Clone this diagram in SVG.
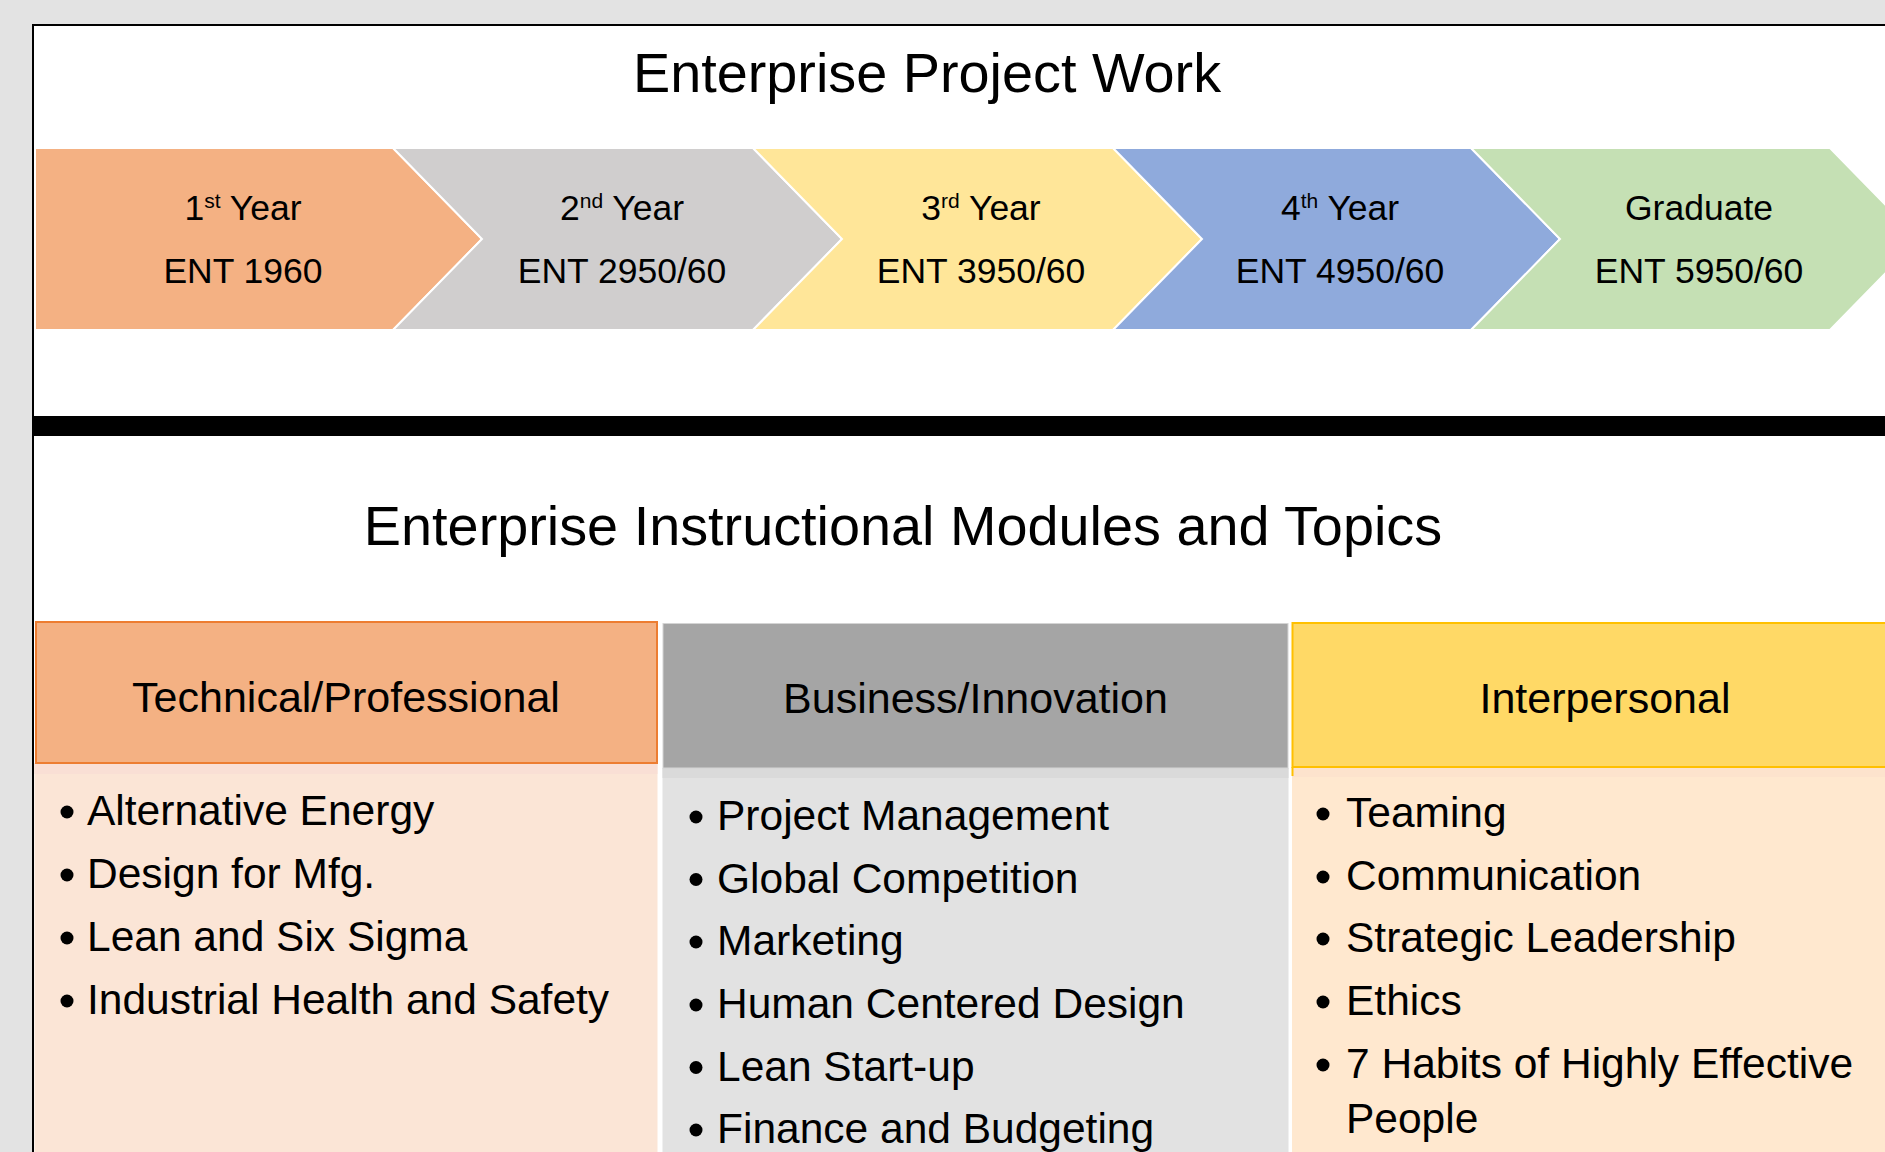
<svg xmlns="http://www.w3.org/2000/svg" width="1885" height="1152" viewBox="0 0 1885 1152">
<style>
text{font-family:"Liberation Sans",Arial,sans-serif;fill:#000}
.title{font-size:55.8px;text-anchor:middle}
.chev{stroke:#fff;stroke-width:2}
.ct{font-size:35.5px;text-anchor:middle}
.sup{font-size:21px}
.hd{font-size:43px;text-anchor:middle}
.it{font-size:42.5px}
.bul{fill:#000}
</style>
<rect x="0" y="0" width="1885" height="1152" fill="#e3e3e3"/>
<rect x="33" y="25" width="1900" height="1200" fill="#fff" stroke="#000" stroke-width="2"/>
<text class="title" x="927" y="92">Enterprise Project Work</text>

<g id="year1">
<path class="chev" d="M35,148 H393 L482,239 L393,330 H35 Z" fill="#f4b183"/>
<text class="ct" x="243" y="220">1<tspan class="sup" dy="-12">st</tspan><tspan dy="12"> Year</tspan></text>
<text class="ct" x="243" y="283">ENT 1960</text>
</g>
<g id="year2">
<path class="chev" d="M393,148 H753 L842,239 L753,330 H393 L482,239 Z" fill="#d0cece"/>
<text class="ct" x="622" y="220">2<tspan class="sup" dy="-12">nd</tspan><tspan dy="12"> Year</tspan></text>
<text class="ct" x="622" y="283">ENT 2950/60</text>
</g>
<g id="year3">
<path class="chev" d="M753,148 H1113 L1202,239 L1113,330 H753 L842,239 Z" fill="#ffe699"/>
<text class="ct" x="981" y="220">3<tspan class="sup" dy="-12">rd</tspan><tspan dy="12"> Year</tspan></text>
<text class="ct" x="981" y="283">ENT 3950/60</text>
</g>
<g id="year4">
<path class="chev" d="M1113,148 H1471 L1560,239 L1471,330 H1113 L1202,239 Z" fill="#8faadc"/>
<text class="ct" x="1340" y="220">4<tspan class="sup" dy="-12">th</tspan><tspan dy="12"> Year</tspan></text>
<text class="ct" x="1340" y="283">ENT 4950/60</text>
</g>
<g id="graduate">
<path class="chev" d="M1471,148 H1830 L1919,239 L1830,330 H1471 L1560,239 Z" fill="#c5e0b4"/>
<text class="ct" x="1699" y="220">Graduate</text>
<text class="ct" x="1699" y="283">ENT 5950/60</text>
</g>

<rect x="33" y="416" width="1860" height="20" fill="#000"/>
<text class="title" x="903" y="545">Enterprise Instructional Modules and Topics</text>

<g id="technical">
<rect x="34.5" y="763" width="623" height="400" fill="#fbe5d6"/>
<rect x="34.5" y="763" width="623" height="11" fill="#f9dfd5"/>
<rect x="36" y="622" width="621" height="141" fill="#f4b183" stroke="#ed7d31" stroke-width="2"/>
<text class="hd" x="346" y="712">Technical/Professional</text>
<circle class="bul" cx="67" cy="812" r="6.5"/><text class="it" x="87" y="825">Alternative Energy</text>
<circle class="bul" cx="67" cy="875" r="6.5"/><text class="it" x="87" y="888">Design for Mfg.</text>
<circle class="bul" cx="67" cy="938" r="6.5"/><text class="it" x="87" y="951">Lean and Six Sigma</text>
<circle class="bul" cx="67" cy="1001" r="6.5"/><text class="it" x="87" y="1014">Industrial Health and Safety</text>
</g>

<g id="business">
<rect x="662.5" y="768" width="626" height="400" fill="#e2e2e2"/>
<rect x="662.5" y="768" width="626" height="10" fill="#dadada"/>
<rect x="663" y="623.5" width="625" height="144.5" fill="#a5a5a5" stroke="#d4d4d4" stroke-width="1"/>
<text class="hd" x="975.5" y="713">Business/Innovation</text>
<circle class="bul" cx="696" cy="817" r="6.5"/><text class="it" x="717" y="830">Project Management</text>
<circle class="bul" cx="696" cy="879.5" r="6.5"/><text class="it" x="717" y="892.5">Global Competition</text>
<circle class="bul" cx="696" cy="942" r="6.5"/><text class="it" x="717" y="955">Marketing</text>
<circle class="bul" cx="696" cy="1005" r="6.5"/><text class="it" x="717" y="1018">Human Centered Design</text>
<circle class="bul" cx="696" cy="1067.5" r="6.5"/><text class="it" x="717" y="1080.5">Lean Start-up</text>
<circle class="bul" cx="696" cy="1130" r="6.5"/><text class="it" x="717" y="1143">Finance and Budgeting</text>
</g>

<g id="interpersonal">
<rect x="1292" y="767" width="600" height="400" fill="#ffe8cf"/>
<rect x="1292" y="767" width="600" height="10" fill="#fde3cd"/>
<line x1="1292.5" y1="767" x2="1292.5" y2="776" stroke="#ffc000" stroke-width="2"/>
<rect x="1292.5" y="623" width="620" height="144" fill="#ffd966" stroke="#ffc000" stroke-width="2"/>
<text class="hd" x="1605" y="713">Interpersonal</text>
<circle class="bul" cx="1323" cy="814" r="6.5"/><text class="it" x="1346" y="827">Teaming</text>
<circle class="bul" cx="1323" cy="877" r="6.5"/><text class="it" x="1346" y="890">Communication</text>
<circle class="bul" cx="1323" cy="939" r="6.5"/><text class="it" x="1346" y="952">Strategic Leadership</text>
<circle class="bul" cx="1323" cy="1002" r="6.5"/><text class="it" x="1346" y="1015">Ethics</text>
<circle class="bul" cx="1323" cy="1065" r="6.5"/><text class="it" x="1346" y="1078">7 Habits of Highly Effective</text>
<text class="it" x="1346" y="1133">People</text>
</g>

<g id="connectors"/>
</svg>
